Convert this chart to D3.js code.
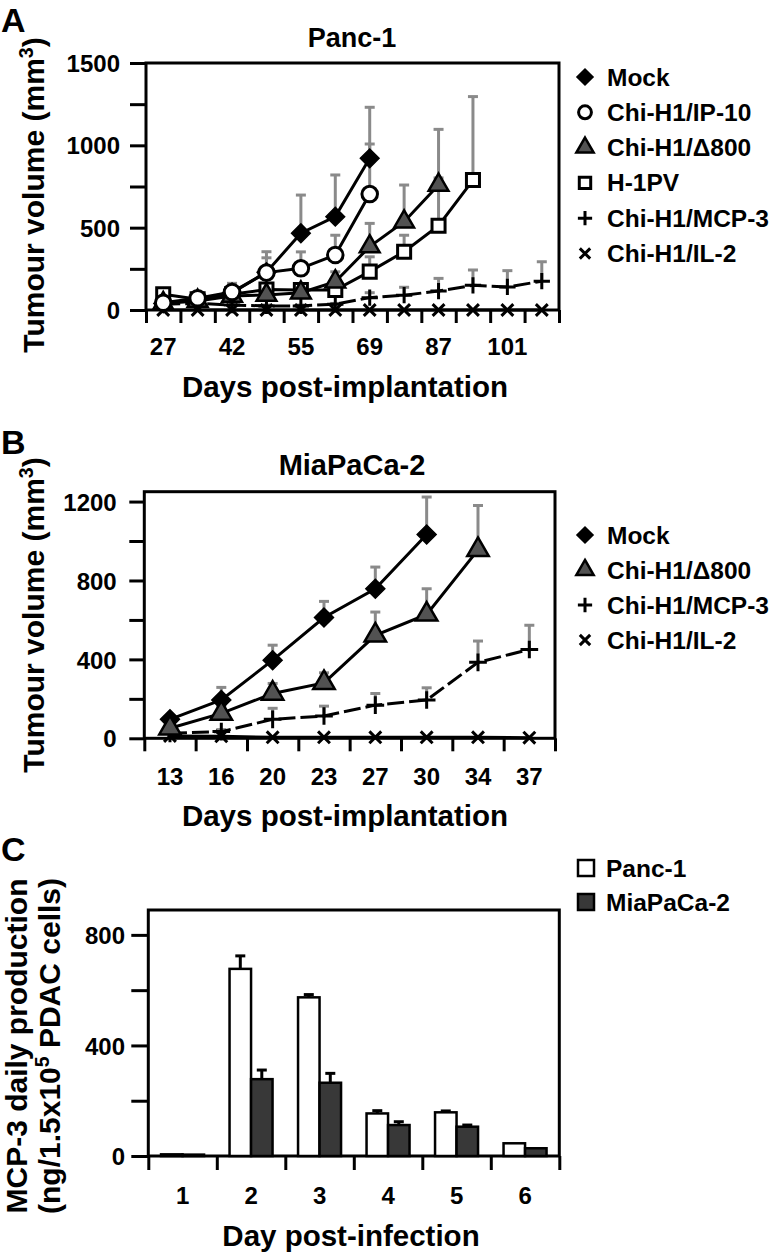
<!DOCTYPE html>
<html>
<head>
<meta charset="utf-8">
<script src="https://cdn.jsdelivr.net/npm/d3@7/dist/d3.min.js"></script>
<style>
body { margin: 0; background: #fff; }
svg text { font-family: "Liberation Sans", Arial, Helvetica, sans-serif; font-weight: bold; fill: #000; }
</style>
</head>
<body>
<svg id="fig" width="774" height="1254"></svg>
<script>
// ---- panel A : Panc-1 (x = measurement index, every other day labelled)
var aLabels = ["27", "", "42", "", "55", "", "69", "", "87", "", "101", ""];
var aMock = [40, 65, 105, 230, 466, 567, 921];
var aMockErr = [8, 10, 57, 124, 232, 253, 310];
var aIP10 = [44, 71, 109, 227, 253, 334, 704];
var aIP10Err = [5, 8, 40, 90, 100, 120, 304];
var aD800 = [40, 55, 85, 91, 105, 172, 385, 536, 759];
var aD800Err = [5, 8, 20, 30, 45, 60, 141, 223, 338];
var aH1PV = [95, 65, 95, 125, 121, 121, 233, 354, 512, 789];
var aH1PVErr = [8, 10, 15, 30, 30, 50, 90, 100, 290, 507];
var aMCP3 = [35, 40, 30, 25, 25, 35, 75, 90, 115, 150, 140, 175];
var aMCP3Err = [5, 5, 5, 5, 5, 5, 30, 48, 77, 93, 99, 118];
var aIL2 = [0, 0, 0, 0, 0, 0, 0, 0, 0, 0, 0, 0];

// ---- panel B : MiaPaCa-2
var bDays = ["13", "16", "20", "23", "27", "30", "34", "37"];
var bMock = [96, 194, 396, 612, 758, 1033];
var bMockErr = [10, 64, 76, 82, 110, 190];
var bD800 = [51, 126, 227, 281, 522, 628, 955];
var bD800Err = [10, 40, 51, 51, 118, 130, 225];
var bMCP3 = [25, 34, 96, 113, 168, 194, 385, 450];
var bMCP3Err = [5, 10, 56, 50, 59, 62, 108, 123];
var bIL2 = [12, 10, 5, 5, 5, 5, 5, 3];

// ---- panel C : MCP-3 production
var cDays = ["1", "2", "3", "4", "5", "6"];
var cPanc = [6, 677, 574, 154, 158, 46];
var cPancErr = [0, 47, 10, 10, 5, 0];
var cMia = [5, 278, 265, 112, 106, 28];
var cMiaErr = [0, 33, 34, 12, 6, 0];

var svg = d3.select("#fig");
var GREY = "#8a8a8a";

function marker(g, type, x, y, s) {
  var p;
  if (type == "diamond") {
    p = g.append("path").attr("d", d3.symbol(d3.symbolSquare, s)())
      .attr("transform", "translate(" + x + "," + y + ") rotate(45)")
      .attr("fill", "#000").attr("stroke", "#000").attr("stroke-width", 1.5);
  } else if (type == "circle") {
    p = g.append("path").attr("d", d3.symbol(d3.symbolCircle, s)())
      .attr("fill", "#fff").attr("stroke", "#000").attr("stroke-width", 3);
  } else if (type == "triangle") {
    p = g.append("path").attr("d", d3.symbol(d3.symbolTriangle, s)())
      .attr("fill", "#525252").attr("stroke", "#000").attr("stroke-width", 2.5);
  } else if (type == "square") {
    p = g.append("path").attr("d", d3.symbol(d3.symbolSquare, s)())
      .attr("fill", "#fff").attr("stroke", "#000").attr("stroke-width", 3);
  } else if (type == "plus") {
    var r = Math.sqrt(s) / 1.6;
    p = g.append("path").attr("d", "M" + (-r) + ",0H" + r + "M0," + (-r) + "V" + r)
      .attr("fill", "none").attr("stroke", "#000").attr("stroke-width", 3);
  } else {
    var r = Math.sqrt(s) / 2.2;
    p = g.append("path").attr("d", "M" + (-r) + "," + (-r) + "L" + r + "," + r + "M" + (-r) + "," + r + "L" + r + "," + (-r))
      .attr("fill", "none").attr("stroke", "#000").attr("stroke-width", 3);
  }
  if (type != "diamond") p.attr("transform", "translate(" + x + "," + y + ")");
}

function frame(p) {
  var n = p.labels.length;
  var x = d3.scaleBand().domain(d3.range(n)).range([p.left, p.right]);
  var xb = d3.scaleLinear().domain([0, n]).range([p.left, p.right]);
  var y = d3.scaleLinear().domain([0, p.ymax]).range([p.zero, p.top]);

  // y axis
  var ya = svg.append("g").attr("transform", "translate(" + p.left + ",0)")
    .call(d3.axisLeft(y).tickValues(p.yticks).tickSize(p.ytick).tickPadding(p.ypad)
      .tickFormat(function (d) { return p.ylabels.indexOf(d) >= 0 ? d : ""; }));
  ya.select(".domain").remove();
  ya.selectAll("line").attr("stroke", "#000").attr("stroke-width", 3);
  ya.selectAll("text").attr("font-size", 24).attr("dy", "0.36em");

  // x ticks at band edges
  var xa = svg.append("g").attr("transform", "translate(0," + p.zero + ")")
    .call(d3.axisBottom(xb).tickValues(d3.range(n + 1)).tickSize(p.xtick).tickFormat(""));
  xa.select(".domain").remove();
  xa.selectAll("line").attr("stroke", "#000").attr("stroke-width", 3);

  // x labels at band centres
  var xl = svg.append("g").attr("transform", "translate(0," + p.zero + ")")
    .call(d3.axisBottom(x).tickSize(0).tickPadding(p.xlab - 17)
      .tickFormat(function (d) { return p.labels[d]; }));
  xl.select(".domain").remove();
  xl.selectAll("text").attr("font-size", 24);

  svg.append("rect").attr("x", p.left).attr("y", p.top)
    .attr("width", p.right - p.left).attr("height", p.zero - p.top)
    .attr("fill", "none").attr("stroke", "#000").attr("stroke-width", 3);

  return { x: x, y: y };
}

function lines(sc, series) {
  var cx = function (i) { return sc.x(i) + sc.x.bandwidth() / 2; };
  var eg = svg.append("g"), lg = svg.append("g"), mg = svg.append("g");
  series.forEach(function (s) {
    s.v.forEach(function (v, i) {
      var e = s.e ? s.e[i] : 0;
      if (e > 0) {
        eg.append("line").attr("x1", cx(i)).attr("x2", cx(i))
          .attr("y1", sc.y(v)).attr("y2", sc.y(v + e))
          .attr("stroke", GREY).attr("stroke-width", 3);
        eg.append("line").attr("x1", cx(i) - 5).attr("x2", cx(i) + 5)
          .attr("y1", sc.y(v + e)).attr("y2", sc.y(v + e))
          .attr("stroke", GREY).attr("stroke-width", 3);
      }
    });
    lg.append("path").datum(s.v)
      .attr("d", d3.line().x(function (d, i) { return cx(i); }).y(function (d) { return sc.y(d); }))
      .attr("fill", "none").attr("stroke", "#000").attr("stroke-width", 3)
      .attr("stroke-dasharray", s.dash ? "17,5" : null);
  });
  // markers drawn after all lines, in series order
  series.forEach(function (s) {
    s.v.forEach(function (v, i) { marker(mg, s.sym, cx(i), sc.y(v), s.size); });
  });
}

function legend(items, x0, y0, step, size) {
  items.forEach(function (it, i) {
    var yy = y0 + i * step;
    marker(svg, it.sym, x0, yy, size);
    svg.append("text").attr("x", x0 + 22).attr("y", yy + 8.5).attr("font-size", 24.5).text(it.name);
  });
}

function ytitle(x, y, size, parts) {
  var t = svg.append("text").attr("transform", "translate(" + x + "," + y + ") rotate(-90)")
    .attr("text-anchor", "middle").attr("font-size", size);
  parts.forEach(function (p) {
    if (p.sup) t.append("tspan").attr("dy", -size * 0.38).attr("font-size", size * 0.65).text(p.t);
    else t.append("tspan").attr("dy", p.after ? size * 0.38 : 0).text(p.t);
  });
}

function label(x, y, size, txt, anchor) {
  svg.append("text").attr("x", x).attr("y", y).attr("font-size", size)
    .attr("text-anchor", anchor || "middle").text(txt);
}

// ---------- A
var scA = frame({ labels: aLabels, left: 146, right: 559, top: 63, zero: 310, ymax: 1500,
  yticks: [0, 250, 500, 750, 1000, 1250, 1500], ylabels: [0, 500, 1000, 1500],
  ytick: 16, ypad: 10, xtick: 13, xlab: 45 });
lines(scA, [
  { v: aIL2, sym: "cross", size: 170 },
  { v: aMCP3, e: aMCP3Err, sym: "plus", size: 170, dash: true },
  { v: aMock, e: aMockErr, sym: "diamond", size: 175 },
  { v: aH1PV, e: aH1PVErr, sym: "square", size: 170 },
  { v: aD800, e: aD800Err, sym: "triangle", size: 170 },
  { v: aIP10, e: aIP10Err, sym: "circle", size: 190 }
]);
legend([
  { name: "Mock", sym: "diamond" }, { name: "Chi-H1/IP-10", sym: "circle" },
  { name: "Chi-H1/\u0394800", sym: "triangle" }, { name: "H-1PV", sym: "square" },
  { name: "Chi-H1/MCP-3", sym: "plus" }, { name: "Chi-H1/IL-2", sym: "cross" }
], 585, 77, 35.3, 130);
label(352, 47, 27, "Panc-1");
label(345, 397, 29.5, "Days post-implantation");
ytitle(44, 195, 30, [{ t: "Tumour volume (mm" }, { t: "3", sup: true }, { t: ")", after: true }]);
label(1, 32, 34, "A", "start");

// ---------- B
var scB = frame({ labels: bDays, left: 144.3, right: 555, top: 491.7, zero: 738.3, ymax: 1250,
  yticks: [0, 200, 400, 600, 800, 1000, 1200], ylabels: [0, 400, 800, 1200],
  ytick: 15, ypad: 12.6, xtick: 13, xlab: 47 });
lines(scB, [
  { v: bIL2, sym: "cross", size: 170 },
  { v: bMCP3, e: bMCP3Err, sym: "plus", size: 200, dash: true },
  { v: bMock, e: bMockErr, sym: "diamond", size: 180 },
  { v: bD800, e: bD800Err, sym: "triangle", size: 200 }
]);
legend([
  { name: "Mock", sym: "diamond" }, { name: "Chi-H1/\u0394800", sym: "triangle" },
  { name: "Chi-H1/MCP-3", sym: "plus" }, { name: "Chi-H1/IL-2", sym: "cross" }
], 585, 535, 35, 130);
label(352, 475, 29, "MiaPaCa-2");
label(345, 826, 29.5, "Days post-implantation");
ytitle(44, 615, 30, [{ t: "Tumour volume (mm" }, { t: "3", sup: true }, { t: ")", after: true }]);
label(1, 454, 34, "B", "start");

// ---------- C
var scC = frame({ labels: cDays, left: 148.3, right: 559.3, top: 910, zero: 1156, ymax: 890,
  yticks: [0, 200, 400, 600, 800], ylabels: [0, 400, 800],
  ytick: 17, ypad: 6.3, xtick: 14, xlab: 48 });
var bw = 21.5;
var cg = svg.append("g");
[{ v: cPanc, e: cPancErr, fill: "#fff", off: -bw }, { v: cMia, e: cMiaErr, fill: "#383838", off: 0 }].forEach(function (s) {
  s.v.forEach(function (v, i) {
    var cx = scC.x(i) + scC.x.bandwidth() / 2 + s.off;
    if (s.e[i] > 0) {
      cg.append("line").attr("x1", cx + bw / 2).attr("x2", cx + bw / 2)
        .attr("y1", scC.y(v)).attr("y2", scC.y(v + s.e[i])).attr("stroke", "#000").attr("stroke-width", 3);
      cg.append("line").attr("x1", cx + bw / 2 - 5).attr("x2", cx + bw / 2 + 5)
        .attr("y1", scC.y(v + s.e[i])).attr("y2", scC.y(v + s.e[i])).attr("stroke", "#000").attr("stroke-width", 3);
    }
    cg.append("rect").attr("x", cx).attr("y", scC.y(v)).attr("width", bw)
      .attr("height", scC.y(0) - scC.y(v)).attr("fill", s.fill)
      .attr("stroke", "#000").attr("stroke-width", 2.5);
  });
});
[{ name: "Panc-1", fill: "#fff" }, { name: "MiaPaCa-2", fill: "#383838" }].forEach(function (it, i) {
  var yy = 868 + i * 34;
  svg.append("rect").attr("x", 578).attr("y", yy - 8).attr("width", 16).attr("height", 16)
    .attr("fill", it.fill).attr("stroke", "#000").attr("stroke-width", 2.5);
  label(606, yy + 8.5, 24.5, it.name, "start");
});
label(351, 1246, 29.5, "Day post-infection");
ytitle(27, 1046, 30, [{ t: "MCP-3 daily production" }]);
ytitle(60, 1046, 30, [{ t: "(ng/1.5x10" }, { t: "5", sup: true }, { t: " PDAC cells)", after: true }]);
label(1, 861, 34, "C", "start");
</script>
</body>
</html>
